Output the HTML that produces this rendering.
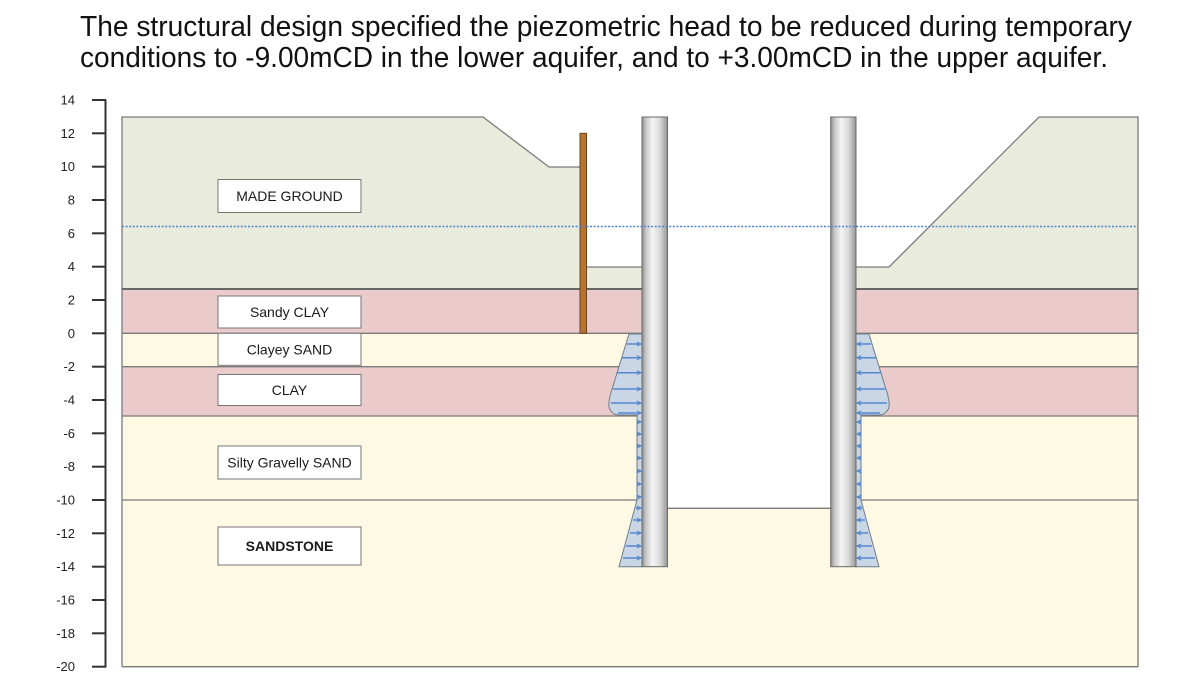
<!DOCTYPE html>
<html><head><meta charset="utf-8">
<style>
html,body{margin:0;padding:0;background:#fff;}
svg{display:block;}
text{font-family:"Liberation Sans",sans-serif;}
</style></head>
<body>
<svg width="1200" height="675" viewBox="0 0 1200 675" xmlns="http://www.w3.org/2000/svg">
<defs>
<linearGradient id="wall" x1="0" x2="1" y1="0" y2="0">
<stop offset="0" stop-color="#8c8c8c"/>
<stop offset="0.15" stop-color="#c6c6c6"/>
<stop offset="0.42" stop-color="#f5f5f5"/>
<stop offset="0.72" stop-color="#d6d6d6"/>
<stop offset="1" stop-color="#959595"/>
</linearGradient>
<marker id="ah" viewBox="0 0 6 6" refX="5.5" refY="3" markerWidth="5" markerHeight="5" markerUnits="userSpaceOnUse" orient="auto">
<path d="M0.5,0.5 L5.5,3 L0.5,5.5" fill="none" stroke="#5586d0" stroke-width="1.2"/>
</marker>
</defs>

<!-- Title -->
<text x="80" y="36" font-size="29" fill="#111" textLength="1052" lengthAdjust="spacingAndGlyphs">The structural design specified the piezometric head to be reduced during temporary</text>
<text x="80" y="67" font-size="29" fill="#111" textLength="1028" lengthAdjust="spacingAndGlyphs">conditions to -9.00mCD in the lower aquifer, and to +3.00mCD in the upper aquifer.</text>

<!-- Axis -->
<g stroke="#333" stroke-width="2">
<line x1="105.5" y1="99.5" x2="105.5" y2="667.5"/>
<line x1="92" y1="100" x2="106" y2="100"/>
<line x1="92" y1="133.3" x2="106" y2="133.3"/>
<line x1="92" y1="166.7" x2="106" y2="166.7"/>
<line x1="92" y1="200" x2="106" y2="200"/>
<line x1="92" y1="233.3" x2="106" y2="233.3"/>
<line x1="92" y1="266.7" x2="106" y2="266.7"/>
<line x1="92" y1="300" x2="106" y2="300"/>
<line x1="92" y1="333.3" x2="106" y2="333.3"/>
<line x1="92" y1="366.7" x2="106" y2="366.7"/>
<line x1="92" y1="400" x2="106" y2="400"/>
<line x1="92" y1="433.3" x2="106" y2="433.3"/>
<line x1="92" y1="466.7" x2="106" y2="466.7"/>
<line x1="92" y1="500" x2="106" y2="500"/>
<line x1="92" y1="533.3" x2="106" y2="533.3"/>
<line x1="92" y1="566.7" x2="106" y2="566.7"/>
<line x1="92" y1="600" x2="106" y2="600"/>
<line x1="92" y1="633.3" x2="106" y2="633.3"/>
<line x1="92" y1="666.7" x2="106" y2="666.7"/>
</g>
<g font-size="13" fill="#222" text-anchor="end">
<text x="75" y="104.5">14</text>
<text x="75" y="137.8">12</text>
<text x="75" y="171.2">10</text>
<text x="75" y="204.5">8</text>
<text x="75" y="237.8">6</text>
<text x="75" y="271.2">4</text>
<text x="75" y="304.5">2</text>
<text x="75" y="337.8">0</text>
<text x="75" y="371.2">-2</text>
<text x="75" y="404.5">-4</text>
<text x="75" y="437.8">-6</text>
<text x="75" y="471.2">-8</text>
<text x="75" y="504.5">-10</text>
<text x="75" y="537.8">-12</text>
<text x="75" y="571.2">-14</text>
<text x="75" y="604.5">-16</text>
<text x="75" y="637.8">-18</text>
<text x="75" y="671.2">-20</text>
</g>

<!-- Ground layers -->
<rect x="122" y="500" width="1016" height="166.7" fill="#fdf9e4"/>
<rect x="122" y="416" width="520" height="84" fill="#fdf9e4"/>
<rect x="122" y="366.7" width="520" height="49.3" fill="#ebcacb"/>
<rect x="122" y="333.3" width="520" height="33.4" fill="#fdf9e4"/>
<rect x="122" y="289" width="520" height="44.3" fill="#ebcacb"/>
<rect x="856" y="416" width="282" height="84" fill="#fdf9e4"/>
<rect x="856" y="366.7" width="282" height="49.3" fill="#ebcacb"/>
<rect x="856" y="333.3" width="282" height="33.4" fill="#fdf9e4"/>
<rect x="856" y="289" width="282" height="44.3" fill="#ebcacb"/>
<polygon points="122,117 483,117 549,167 580,167 580,267 642,267 642,289 122,289" fill="#e9ecdc"/>
<polygon points="856,267 889,267 1039,117 1138,117 1138,289 856,289" fill="#e9ecdc"/>

<!-- Excavation interior -->
<rect x="667" y="117" width="164" height="391" fill="#ffffff"/>

<!-- Layer lines -->
<g stroke="#7a7a7a" stroke-width="1.3" fill="none">
<polyline points="122,666.7 122,117 483,117 549,167 580,167"/>
<polyline points="587,267 642,267"/>
<polyline points="856,267 889,267 1039,117 1138,117 1138,666.7 122,666.7"/>
<line x1="122" y1="333.3" x2="642" y2="333.3"/>
<line x1="122" y1="366.7" x2="642" y2="366.7"/>
<line x1="122" y1="416" x2="642" y2="416"/>
<line x1="122" y1="500" x2="642" y2="500"/>
<line x1="856" y1="333.3" x2="1138" y2="333.3"/>
<line x1="856" y1="366.7" x2="1138" y2="366.7"/>
<line x1="856" y1="416" x2="1138" y2="416"/>
<line x1="856" y1="500" x2="1138" y2="500"/>
<line x1="667" y1="508.3" x2="831" y2="508.3"/>
</g>
<g stroke="#666" stroke-width="2">
<line x1="122" y1="289" x2="642" y2="289"/>
<line x1="856" y1="289" x2="1138" y2="289"/>
</g>

<!-- Grout zones -->
<path d="M642,334 L629,334 L613,386 C609,398 607,407 611,411 C613,414 616,415 619,415 L637,415 L637,500 L619,566.7 L642,566.7 Z" fill="#c9d6e6" stroke="#6f7c8a" stroke-width="1"/>
<path d="M856,334 L869,334 L885,386 C889,398 891,407 887,411 C885,414 882,415 879,415 L861,415 L861,500 L879,566.7 L856,566.7 Z" fill="#c9d6e6" stroke="#6f7c8a" stroke-width="1"/>

<!-- Arrows left -->
<g stroke="#5586d0" stroke-width="1.5" marker-end="url(#ah)">
<line x1="627" y1="344" x2="641" y2="344"/>
<line x1="622" y1="357.7" x2="641" y2="357.7"/>
<line x1="617" y1="372.7" x2="641" y2="372.7"/>
<line x1="613" y1="389" x2="641" y2="389"/>
<line x1="611" y1="403" x2="641" y2="403"/>
<line x1="618" y1="413" x2="641" y2="413"/>
<line x1="637" y1="422" x2="641" y2="422"/>
<line x1="637" y1="434" x2="641" y2="434"/>
<line x1="637" y1="446" x2="641" y2="446"/>
<line x1="637" y1="458" x2="641" y2="458"/>
<line x1="637" y1="471" x2="641" y2="471"/>
<line x1="637" y1="484" x2="641" y2="484"/>
<line x1="637" y1="497" x2="641" y2="497"/>
<line x1="636" y1="508" x2="641" y2="508"/>
<line x1="633" y1="520" x2="641" y2="520"/>
<line x1="630" y1="533" x2="641" y2="533"/>
<line x1="626" y1="546" x2="641" y2="546"/>
<line x1="623" y1="558" x2="641" y2="558"/>
</g>
<!-- Arrows right -->
<g stroke="#5586d0" stroke-width="1.5" marker-end="url(#ah)">
<line x1="871" y1="344" x2="857" y2="344"/>
<line x1="876" y1="357.7" x2="857" y2="357.7"/>
<line x1="881" y1="372.7" x2="857" y2="372.7"/>
<line x1="885" y1="389" x2="857" y2="389"/>
<line x1="887" y1="403" x2="857" y2="403"/>
<line x1="880" y1="413" x2="857" y2="413"/>
<line x1="861" y1="422" x2="857" y2="422"/>
<line x1="861" y1="434" x2="857" y2="434"/>
<line x1="861" y1="446" x2="857" y2="446"/>
<line x1="861" y1="458" x2="857" y2="458"/>
<line x1="861" y1="471" x2="857" y2="471"/>
<line x1="861" y1="484" x2="857" y2="484"/>
<line x1="861" y1="497" x2="857" y2="497"/>
<line x1="862" y1="508" x2="857" y2="508"/>
<line x1="865" y1="520" x2="857" y2="520"/>
<line x1="868" y1="533" x2="857" y2="533"/>
<line x1="872" y1="546" x2="857" y2="546"/>
<line x1="875" y1="558" x2="857" y2="558"/>
</g>

<!-- Sheet pile -->
<rect x="580" y="133.3" width="6.5" height="200" fill="#b8732f" stroke="#6b4520" stroke-width="1"/>

<!-- Walls -->
<rect x="642" y="117" width="25.5" height="449.7" fill="url(#wall)" stroke="#6a6a6a" stroke-width="1"/>
<rect x="830.7" y="117" width="25.3" height="449.7" fill="url(#wall)" stroke="#6a6a6a" stroke-width="1"/>

<!-- Water line -->
<line x1="122" y1="226.5" x2="1138" y2="226.5" stroke="#4f84d4" stroke-width="1.6" stroke-dasharray="2 1.6"/>

<!-- Labels -->
<g fill="#fff" stroke="#777" stroke-width="1">
<rect x="218" y="179.5" width="143" height="33"/>
<rect x="218" y="296" width="143" height="32"/>
<rect x="218" y="333.3" width="143" height="32"/>
<rect x="218" y="374.5" width="143" height="31"/>
<rect x="218" y="446" width="143" height="33"/>
<rect x="218" y="527" width="143" height="38"/>
</g>
<g font-size="14" fill="#1a1a1a" text-anchor="middle">
<text x="289.5" y="201">MADE GROUND</text>
<text x="289.5" y="317">Sandy CLAY</text>
<text x="289.5" y="354.5">Clayey SAND</text>
<text x="289.5" y="395">CLAY</text>
<text x="289.5" y="467.5">Silty Gravelly SAND</text>
<text x="289.5" y="551" font-weight="bold">SANDSTONE</text>
</g>
</svg>
</body></html>
